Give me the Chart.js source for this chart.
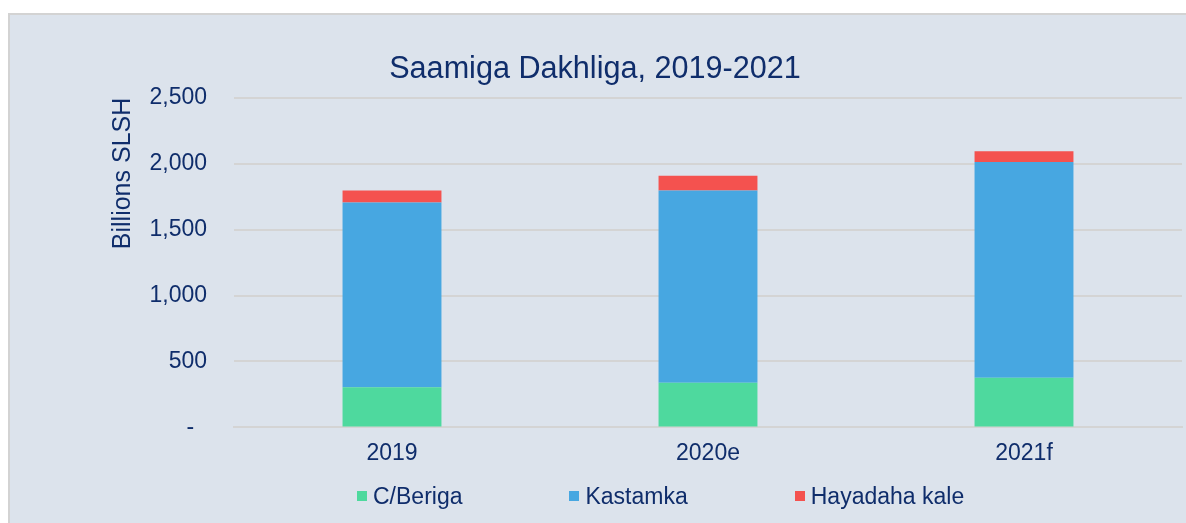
<!DOCTYPE html>
<html>
<head>
<meta charset="utf-8">
<script src="https://cdn.jsdelivr.net/npm/chart.js@4/dist/chart.umd.min.js"></script>
<style>
  html, body { margin: 0; padding: 0; background: #ffffff; }
  body { width: 1186px; height: 523px; overflow: hidden; position: relative; font-family: "Liberation Sans", Arial, sans-serif; }
  #panel {
    position: absolute; left: 8px; top: 13px; width: 1178px; height: 510px;
    background: #dce3ec; border-left: 2px solid #d3d3d3; border-top: 2px solid #d3d3d3;
    box-sizing: border-box;
  }
  #chart { position: absolute; left: 8px; top: 13px; }
  #legend {
    position: absolute; left: 357px; top: 482px; display: flex; gap: 107px;
    font-size: 23px; color: #0f2d6b; line-height: 28px;
  }
  #legend .item { display: flex; align-items: center; }
  #legend .box { width: 10px; height: 10px; margin-right: 6px; }
</style>
</head>
<body>
<div id="panel"></div>
<canvas id="chart" width="1178" height="510"></canvas>
<div id="legend"></div>
<script>
const categories = ['2019', '2020e', '2021f'];
const seriesNames = ['C/Beriga', 'Kastamka', 'Hayadaha kale'];
const beriga = [305, 338, 376];
const kastamka = [1401, 1459, 1636];
const hayadaha = [91, 112, 82];
const colors = ['#4ed99e', '#47a7e1', '#f4524f'];
const yTicks = [0, 500, 1000, 1500, 2000, 2500];

const navy = '#0f2d6b';
const font = 'Liberation Sans, Arial, sans-serif';

const ctx = document.getElementById('chart').getContext('2d');
new Chart(ctx, {
    type: 'bar',
    data: {
        labels: categories,
        datasets: [beriga, kastamka, hayadaha].map((values, i) => ({
            label: seriesNames[i],
            data: values,
            backgroundColor: colors[i],
            categoryPercentage: 1,
            barPercentage: 0.313,
        })),
    },
    options: {
        responsive: false,
        animation: false,
        layout: { padding: { left: 0, right: 4, top: 0, bottom: 44 } },
        plugins: {
            legend: { display: false },
            tooltip: { enabled: false },
            title: {
                display: true,
                text: 'Saamiga Dakhliga, 2019-2021',
                color: navy,
                font: { family: font, size: 30.6, weight: 'normal' },
                padding: { top: 38, bottom: 10 },
            },
        },
        scales: {
            x: {
                stacked: true,
                grid: { display: false, drawTicks: false },
                border: { display: true, color: '#d4d4d4', width: 2 },
                ticks: { color: navy, font: { family: font, size: 23 }, padding: 12 },
            },
            y: {
                stacked: true,
                min: yTicks[0],
                max: yTicks[yTicks.length - 1],
                afterBuildTicks: (axis) => { axis.ticks = yTicks.map(v => ({ value: v })); },
                afterFit: (axis) => { axis.width = 226; },
                grid: { color: '#d4d4d4', lineWidth: 2, drawTicks: false },
                border: { display: false },
                ticks: {
                    color: navy,
                    font: { family: font, size: 23 },
                    padding: 27,
                    callback: (v) => v === 0 ? '-  ' : v.toLocaleString('en-US'),
                },
                title: {
                    display: true,
                    text: 'Billions SLSH',
                    align: 'end',
                    color: navy,
                    font: { family: font, size: 25 },
                    padding: { top: 100, bottom: 8 },
                },
            },
        },
    },
});

const legend = document.getElementById('legend');
seriesNames.forEach((name, i) => {
    const item = document.createElement('div');
    item.className = 'item';
    const box = document.createElement('span');
    box.className = 'box';
    box.style.background = colors[i];
    const text = document.createElement('span');
    text.textContent = name;
    item.appendChild(box);
    item.appendChild(text);
    legend.appendChild(item);
});
</script>
</body>
</html>
